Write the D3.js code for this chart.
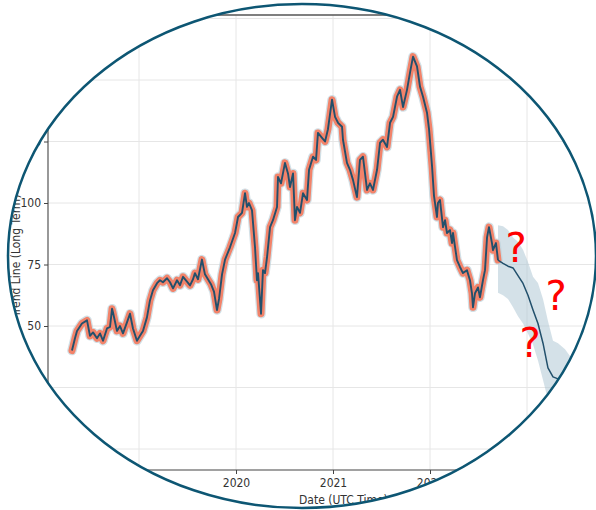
<!DOCTYPE html>
<html>
<head>
<meta charset="utf-8">
<script src="https://cdn.jsdelivr.net/npm/d3@7"></script>
<style>
  html, body { margin: 0; padding: 0; background: #fff; }
  svg { display: block; }
</style>
</head>
<body>
<div id="chart"></div>
<script>
// historical trend (decimal years / price)
const histYears = [
  2018.309, 2018.340, 2018.361, 2018.412, 2018.464, 2018.495, 2018.526, 2018.567, 2018.598, 2018.629,
  2018.670, 2018.701, 2018.722, 2018.732, 2018.773, 2018.804, 2018.835, 2018.876, 2018.907, 2018.938,
  2018.979, 2019.010, 2019.041, 2019.082, 2019.113, 2019.144, 2019.186, 2019.216, 2019.247, 2019.289,
  2019.320, 2019.351, 2019.392, 2019.423, 2019.454, 2019.495, 2019.526, 2019.557, 2019.577, 2019.608,
  2019.649, 2019.680, 2019.711, 2019.742, 2019.773, 2019.804, 2019.825, 2019.856, 2019.887, 2019.938,
  2019.990, 2020.021, 2020.062, 2020.093, 2020.113, 2020.134, 2020.165, 2020.196, 2020.216, 2020.227,
  2020.258, 2020.278, 2020.299, 2020.320, 2020.351, 2020.381, 2020.423, 2020.433, 2020.464, 2020.505,
  2020.536, 2020.557, 2020.588, 2020.608, 2020.629, 2020.660, 2020.691, 2020.732, 2020.753, 2020.794,
  2020.825, 2020.845, 2020.887, 2020.918, 2020.948, 2020.990, 2021.021, 2021.052, 2021.093, 2021.103,
  2021.144, 2021.175, 2021.206, 2021.247, 2021.278, 2021.309, 2021.351, 2021.381, 2021.412, 2021.454,
  2021.485, 2021.515, 2021.557, 2021.588, 2021.619, 2021.660, 2021.691, 2021.722, 2021.763, 2021.794,
  2021.825, 2021.866, 2021.897, 2021.928, 2021.969, 2021.990, 2022.021, 2022.041, 2022.072, 2022.082,
  2022.103, 2022.134, 2022.155, 2022.175, 2022.206, 2022.227, 2022.237, 2022.278, 2022.309, 2022.340,
  2022.381, 2022.412, 2022.433, 2022.443, 2022.464, 2022.495, 2022.515, 2022.546, 2022.567, 2022.588,
  2022.608, 2022.639, 2022.649, 2022.680, 2022.701
]
const histValues = [
  40, 45, 48, 51, 52.3, 46, 47.4, 45, 47, 44,
  49, 49.6, 57, 55.5, 48, 50, 47, 51.5, 55, 49,
  44, 46, 48, 53.5, 60.4, 64.5, 67.4, 68.6, 67.8, 69.4,
  67.8, 65.3, 68.6, 66.6, 70, 68, 66.5, 69, 71.5, 69,
  77, 71, 69, 67, 64, 56.5, 61, 71, 77, 82,
  87.8, 94.3, 96, 104, 98.4, 100, 97, 82, 68.6, 71.5,
  55, 72.7, 71.5, 78, 90.2, 93, 98.4, 110.6, 108, 116.3,
  112, 106.5, 112, 93, 98.4, 96, 104, 101.2, 113.5, 118.8,
  117.5, 128.5, 126.5, 125, 130, 142, 135, 132.6, 131, 125.7,
  116.3, 113.5, 109.4, 102.4, 117.5, 118.8, 105.3, 108, 105.3, 113.5,
  124.5, 125.7, 122.8, 132.6, 135, 143.2, 146, 139, 146, 153,
  159.5, 155.5, 147.3, 143.2, 136.7, 130, 115, 103, 94.3, 100,
  101.2, 90.2, 93, 87.8, 89, 83.7, 87.8, 76.8, 74, 71.5,
  72.7, 68.6, 63.3, 57.6, 63.3, 65.7, 61.7, 68.6, 72.7, 86,
  90.2, 83.7, 80.8, 83.7, 76.8
]

// forecast with uncertainty band
const fcYears = [
  2022.701, 2022.753, 2022.804, 2022.856, 2022.907, 2022.959, 2023.010, 2023.062, 2023.113,
  2023.165, 2023.216, 2023.268, 2023.320, 2023.392, 2023.495, 2023.649, 2023.804
]
const fcValues = [76.8, 75.5, 74.3, 73.6, 70.5, 67.3, 62.5, 56.5, 51, 43, 33, 29.3, 28.5, 27.5, 26.5, 25, 24]
const fcUpper = [91, 90.5, 89, 86, 84.2, 81, 76, 70, 67.5, 61, 52, 44, 43, 40.5, 35, 30, 27]
const fcLower = [63.5, 62.5, 61, 57.6, 54, 51, 47, 42.5, 36, 28, 20, 17, 15, 13, 12, 11, 10]

const xTicks = [2019, 2020, 2021, 2022, 2023]
const yTicks = [0, 25, 50, 75, 100, 125, 150, 175]

const width = 596
const height = 510
const plot = { left: 48, right: 640, top: 15, bottom: 470 }
const ell = { cx: 302, cy: 256, rx: 294, ry: 252 }
const lineColor = '#22506c'
const font = "'DejaVu Sans Condensed', 'Liberation Sans Narrow', 'Liberation Sans', sans-serif"

const svg = d3.select('#chart').append('svg')
  .attr('width', width)
  .attr('height', height)

svg.append('defs').append('clipPath').attr('id', 'ellClip')
  .append('ellipse')
  .attr('cx', ell.cx).attr('cy', ell.cy).attr('rx', ell.rx).attr('ry', ell.ry)

const x = d3.scaleLinear().domain([2019, 2023]).range([139, 527])
const y = d3.scaleLinear().domain([0, 100]).range([449, 203])

const g = svg.append('g').attr('clip-path', 'url(#ellClip)')

// grid
g.append('g').selectAll('line').data(yTicks).join('line')
  .attr('x1', plot.left).attr('x2', plot.right)
  .attr('y1', d => y(d)).attr('y2', d => y(d))
  .attr('stroke', '#e6e6e6').attr('stroke-width', 1)
g.append('g').selectAll('line').data(xTicks).join('line')
  .attr('x1', d => x(d)).attr('x2', d => x(d))
  .attr('y1', plot.top).attr('y2', plot.bottom)
  .attr('stroke', '#e6e6e6').attr('stroke-width', 1)

// axes
const xAxis = g.append('g')
  .attr('transform', `translate(0,${plot.bottom})`)
  .call(d3.axisBottom(x).tickValues(xTicks).tickFormat(d3.format('d')).tickSize(4).tickSizeOuter(0))
const yAxis = g.append('g')
  .attr('transform', `translate(${plot.left},0)`)
  .call(d3.axisLeft(y).tickValues(yTicks).tickSize(4).tickSizeOuter(0))
xAxis.select('.domain').attr('d', `M${plot.left},0H${plot.right}`)
yAxis.select('.domain').attr('d', `M0,${plot.top}V${plot.bottom}`)
;[xAxis, yAxis].forEach(a => {
  a.select('.domain').attr('stroke', '#444').attr('stroke-width', 1.1)
  a.selectAll('.tick line').attr('stroke', '#444')
  a.selectAll('.tick text').attr('fill', '#333').style('font-family', font).style('font-size', '12px')
})
xAxis.selectAll('.tick text').attr('dy', '0.85em')
// top spine
g.append('line')
  .attr('x1', plot.left).attr('x2', plot.right)
  .attr('y1', plot.top).attr('y2', plot.top)
  .attr('stroke', '#555').attr('stroke-width', 1.3)

// axis labels
g.append('text')
  .attr('x', 299).attr('y', 504)
  .style('font-family', font).style('font-size', '12px').attr('fill', '#333')
  .text('Date (UTC Time)')
g.append('text')
  .attr('transform', 'translate(20,317) rotate(-90)')
  .style('font-family', font).style('font-size', '12px').attr('fill', '#333')
  .text('Trend Line (Long Term)')

const hist = histYears.map((d, i) => ({ t: d, v: histValues[i] }))
const fc = fcYears.map((d, i) => ({ t: d, v: fcValues[i], lo: fcLower[i], hi: fcUpper[i] }))

const line = d3.line().x(d => x(d.t)).y(d => y(d.v))

// forecast band
g.append('path')
  .datum(fc)
  .attr('d', d3.area().x(d => x(d.t)).y0(d => y(d.lo)).y1(d => y(d.hi)))
  .attr('fill', '#a9c4d1').attr('fill-opacity', 0.5)

// historical band + glow + line
g.append('path').datum(hist).attr('d', line)
  .attr('fill', 'none').attr('stroke', '#bfd3dc').attr('stroke-opacity', 0.7)
  .attr('stroke-width', 9.5).attr('stroke-linejoin', 'round').attr('stroke-linecap', 'round')
g.append('path').datum(hist).attr('d', line)
  .attr('fill', 'none').attr('stroke', '#f2836a')
  .attr('stroke-width', 7).attr('stroke-linejoin', 'round').attr('stroke-linecap', 'round')
g.append('path').datum(hist).attr('d', line)
  .attr('fill', 'none').attr('stroke', lineColor)
  .attr('stroke-width', 1.9).attr('stroke-linejoin', 'round')

// forecast line
g.append('path').datum(fc).attr('d', line)
  .attr('fill', 'none').attr('stroke', lineColor)
  .attr('stroke-width', 1.5).attr('stroke-linejoin', 'round')

// question marks
const marks = [[516, 262], [556, 310], [530, 357]]
g.append('g').selectAll('text').data(marks).join('text')
  .attr('x', d => d[0]).attr('y', d => d[1])
  .attr('text-anchor', 'middle')
  .style('font-family', 'DejaVu Sans, sans-serif').style('font-size', '40px')
  .attr('fill', '#ff0000')
  .text('?')

// ellipse frame
svg.append('ellipse')
  .attr('cx', ell.cx).attr('cy', ell.cy).attr('rx', ell.rx).attr('ry', ell.ry)
  .attr('fill', 'none').attr('stroke', '#0d5673').attr('stroke-width', 2.5)
</script>
</body>
</html>
